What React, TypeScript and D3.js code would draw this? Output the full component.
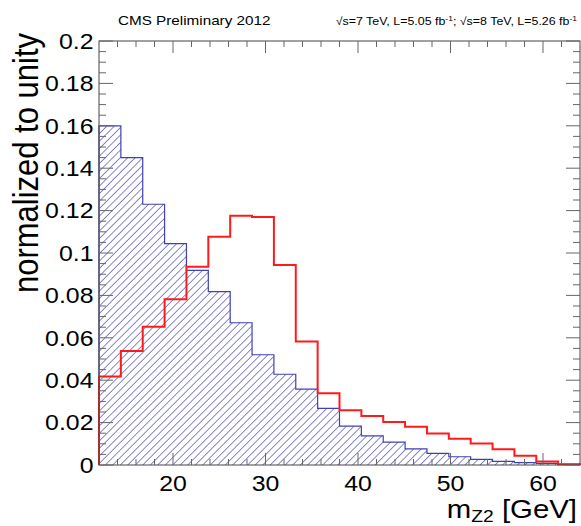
import React from 'react'
import * as d3 from 'd3';

// binned distributions, 22 equal bins between 12 and 64 GeV
const binLow = 12;
const binHigh = 64;
const blueValues = [0.160, 0.145, 0.123, 0.1044, 0.0918, 0.0818, 0.0671, 0.052, 0.0428, 0.0358, 0.0267,
  0.0183, 0.0137, 0.0108, 0.0076, 0.0055, 0.0039, 0.0027, 0.0017, 0.0011, 0.0008, 0.0003];
const redValues = [0.0417, 0.0538, 0.0652, 0.0782, 0.0935, 0.1077, 0.1176, 0.117, 0.0943, 0.0582, 0.0338,
  0.0258, 0.0231, 0.0203, 0.018, 0.0149, 0.0124, 0.0102, 0.0074, 0.0044, 0.0016, 0.0004];

const yTicks = [0, 0.02, 0.04, 0.06, 0.08, 0.1, 0.12, 0.14, 0.16, 0.18, 0.2];
const yTickLabels = ['0', '0.02', '0.04', '0.06', '0.08', '0.1', '0.12', '0.14', '0.16', '0.18', '0.2'];
const xTicks = [20, 30, 40, 50, 60];
const xTickLabels = ['20', '30', '40', '50', '60'];

const W = 581, H = 526;
const left = 99, right = 580, top = 41, bottom = 465;
const SX = 1.13; // text in the picture is a bit wider than tall

const x = d3.scaleLinear().domain([binLow, binHigh]).range([left, right]);
const y = d3.scaleLinear().domain([0, 0.2]).range([bottom, top]);

const stepPath = (vals: number[]) => {
  const bw = (binHigh - binLow) / vals.length;
  const pts: [number, number][] = [[x(binLow), y(0)]];
  vals.forEach((v, i) => {
    pts.push([x(binLow + i * bw), y(v)], [x(binLow + (i + 1) * bw), y(v)]);
  });
  pts.push([x(binHigh), y(0)]);
  return d3.line()(pts) || '';
};

const Chart = () => {
  const xMinor = d3.range(14, binHigh, 2).filter(v => v % 10 !== 0);
  const yMinor = d3.range(0.005, 0.2, 0.005).filter(v => Math.abs(v / 0.02 - Math.round(v / 0.02)) > 0.01);
  const tickCol = '#666';
  const font = 'Liberation Sans, Arial, sans-serif';

  return (
    <svg width={W} height={H} style={{ display: 'block' }} fontFamily={font}>
      <defs>
        <pattern id='hatch' patternUnits='userSpaceOnUse' width={5.3} height={10} patternTransform='rotate(45)'>
          <line x1={0} y1={0} x2={0} y2={10} stroke='#2626a6' strokeWidth={1.1} />
        </pattern>
      </defs>
      <rect x={0} y={0} width={W} height={H} fill='#fff' />

      {/* histograms */}
      <path d={stepPath(blueValues)} fill='url(#hatch)' stroke='#4040b4' strokeWidth={1.2} />
      <path d={stepPath(redValues)} fill='none' stroke='#ff1a1a' strokeWidth={2} />

      {/* frame */}
      <rect x={left} y={top} width={right - left} height={bottom - top} fill='none' stroke='#444' strokeWidth={1} />

      {/* y ticks on both sides */}
      <g stroke={tickCol} strokeWidth={1}>
        {yTicks.map((t, i) => (
          <g key={'ym' + i}>
            <line x1={left} x2={left + 14} y1={y(t)} y2={y(t)} />
            <line x1={right} x2={right - 14} y1={y(t)} y2={y(t)} />
          </g>
        ))}
        {yMinor.map((t, i) => (
          <g key={'yn' + i}>
            <line x1={left} x2={left + 7} y1={y(t)} y2={y(t)} />
            <line x1={right} x2={right - 7} y1={y(t)} y2={y(t)} />
          </g>
        ))}
        {xTicks.map((t, i) => (
          <g key={'xm' + i}>
            <line x1={x(t)} x2={x(t)} y1={bottom} y2={bottom - 12} />
            <line x1={x(t)} x2={x(t)} y1={top} y2={top + 12} />
          </g>
        ))}
        {xMinor.map((t, i) => (
          <g key={'xn' + i}>
            <line x1={x(t)} x2={x(t)} y1={bottom} y2={bottom - 6} />
            <line x1={x(t)} x2={x(t)} y1={top} y2={top + 6} />
          </g>
        ))}
      </g>

      {/* tick labels */}
      {yTicks.map((t, i) => (
        <text key={'yl' + i} transform={`translate(93.5,${y(t) + 7.8}) scale(${SX},1)`} textAnchor='end' fontSize={22} fill='#000'>
          {yTickLabels[i]}
        </text>
      ))}
      {xTicks.map((t, i) => (
        <text key={'xl' + i} transform={`translate(${x(t)},491) scale(${SX},1)`} textAnchor='middle' fontSize={22} fill='#000'>
          {xTickLabels[i]}
        </text>
      ))}

      {/* axis titles */}
      <text transform={`translate(37.5,33) scale(${SX},1) rotate(-90)`} textAnchor='end' fontSize={31} fill='#000'>
        normalized to unity
      </text>
      <text transform={`translate(577,518) scale(${SX},1)`} textAnchor='end' fontSize={26} fill='#000'>
        m<tspan fontSize={17} dy={4}>Z2</tspan><tspan dy={-4}> [GeV]</tspan>
      </text>

      {/* header */}
      <text transform={`translate(118,25) scale(${SX},1)`} fontSize={13.5} fill='#000'>CMS Preliminary 2012</text>
      <text transform={`translate(577,25) scale(${SX},1)`} textAnchor='end' fontSize={11} fill='#000'>
        √s=7 TeV, L=5.05 fb<tspan fontSize={7.5} dy={-4}>-1</tspan><tspan dy={4}>;  √s=8 TeV, L=5.26 fb</tspan><tspan fontSize={7.5} dy={-4}>-1</tspan>
      </text>
    </svg>
  )
}

const App = () => (
  <div style={{ position: 'absolute', left: 0, top: 0 }}>
    <Chart />
  </div>
)

export default App
